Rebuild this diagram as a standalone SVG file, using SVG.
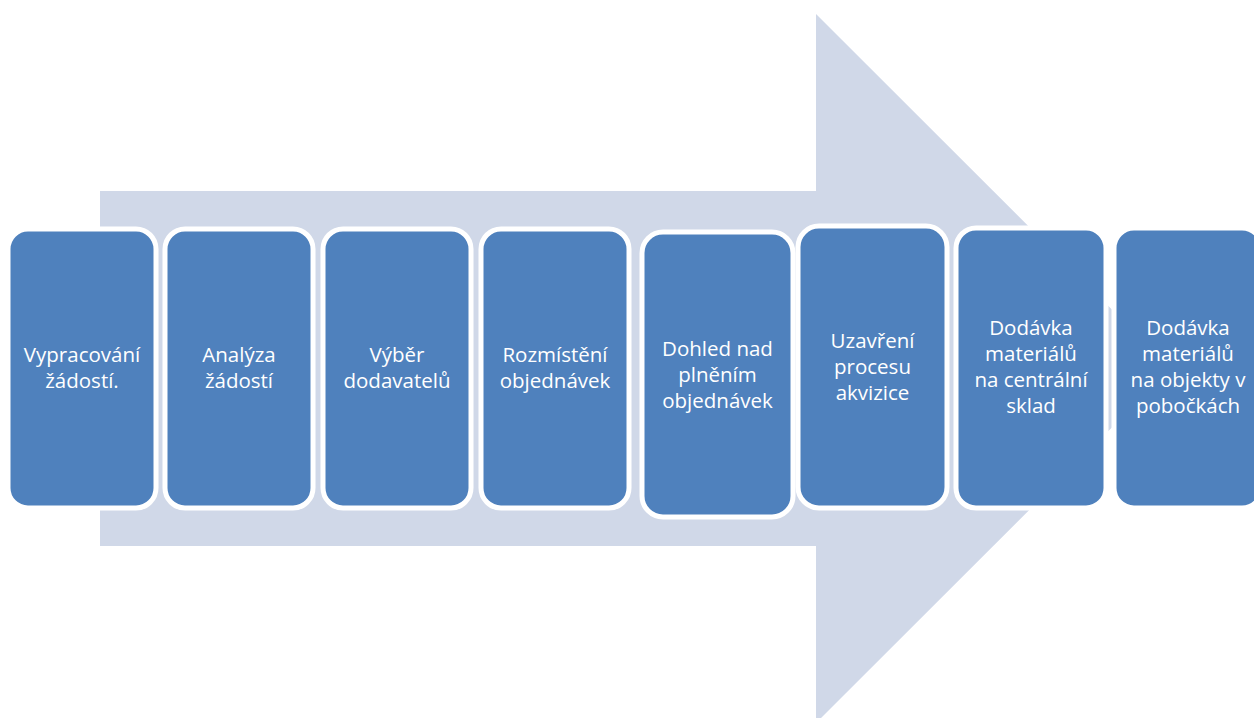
<svg xmlns="http://www.w3.org/2000/svg" width="1254" height="718" viewBox="0 0 1254 718">
<style>
.box{fill:#4F81BD;stroke:#FFFFFF;stroke-width:5}
.lbl{font-family:"Open Sans","Noto Sans","Liberation Sans",sans-serif;font-size:20.5px;fill:#FFFFFF;text-anchor:middle}
</style>
<rect width="1254" height="718" fill="#FFFFFF"/>
<g id="arrow">
<polygon points="100,191 816,191 816,14 1171,368.5 816,723 816,546 100,546" fill="#D0D8E8"/>
</g>
<g id="connectors"></g>
<g id="n1"><rect class="box" x="8" y="229" width="148" height="279" rx="20"/>
<text class="lbl" x="82" y="362">Vypracování</text><text class="lbl" x="82" y="388">žádostí.</text></g>
<g id="n2"><rect class="box" x="165" y="229" width="148" height="279" rx="20"/>
<text class="lbl" x="239" y="362">Analýza</text><text class="lbl" x="239" y="388">žádostí</text></g>
<g id="n3"><rect class="box" x="323" y="229" width="148" height="279" rx="20"/>
<text class="lbl" x="397" y="362">Výběr</text><text class="lbl" x="397" y="388">dodavatelů</text></g>
<g id="n4"><rect class="box" x="481" y="229" width="148" height="279" rx="20"/>
<text class="lbl" x="555" y="362">Rozmístění</text><text class="lbl" x="555" y="388">objednávek</text></g>
<g id="n5"><rect class="box" x="642" y="232" width="151" height="285" rx="21"/>
<text class="lbl" x="717.5" y="356">Dohled nad</text><text class="lbl" x="717.5" y="382">plněním</text><text class="lbl" x="717.5" y="408">objednávek</text></g>
<g id="n6"><rect class="box" x="798" y="226" width="149" height="282" rx="21"/>
<text class="lbl" x="872.5" y="348">Uzavření</text><text class="lbl" x="872.5" y="374">procesu</text><text class="lbl" x="872.5" y="400">akvizice</text></g>
<g id="n7"><rect class="box" x="956" y="228" width="150" height="280" rx="20"/>
<text class="lbl" x="1031" y="335">Dodávka</text><text class="lbl" x="1031" y="361">materiálů</text><text class="lbl" x="1031" y="387">na centrální</text><text class="lbl" x="1031" y="413">sklad</text></g>
<g id="n8"><rect class="box" x="1114" y="228" width="148" height="280" rx="20"/>
<text class="lbl" x="1188" y="335">Dodávka</text><text class="lbl" x="1188" y="361">materiálů</text><text class="lbl" x="1188" y="387">na objekty v</text><text class="lbl" x="1188" y="413">pobočkách</text></g>
</svg>
